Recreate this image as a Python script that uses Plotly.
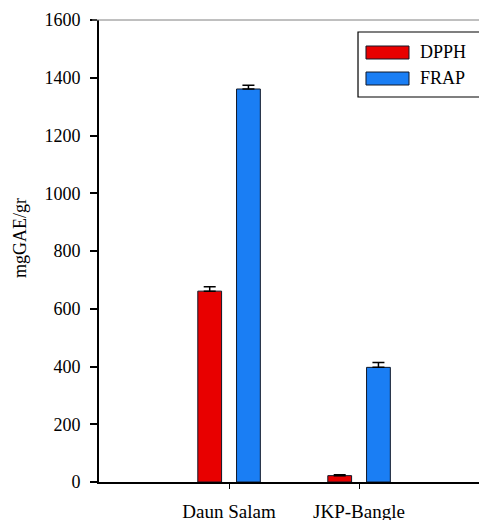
import plotly.graph_objects as go

categories = ["Daun Salam", "JKP-Bangle"]
dpph_values = [661, 22]
dpph_errors = [15, 3]
frap_values = [1361, 397]
frap_errors = [13, 17]
y_ticks = [0, 200, 400, 600, 800, 1000, 1200, 1400, 1600]
series_names = ["DPPH", "FRAP"]
series_colors = ["#E80000", "#1A7EF4"]

FONT = "Liberation Serif"

fig = go.Figure()
for name, vals, errs, color, off in [
    (series_names[0], dpph_values, dpph_errors, series_colors[0], -0.24),
    (series_names[1], frap_values, frap_errors, series_colors[1], 0.058),
]:
    fig.add_trace(go.Bar(
        x=categories, y=vals, name=name,
        width=0.183, offset=off,
        marker=dict(color=color, line=dict(color="#101828", width=1)),
        error_y=dict(type="data", symmetric=False, array=errs,
                     arrayminus=[0] * len(errs), color="black",
                     thickness=1.5, width=6),
        showlegend=False,
    ))

# manual legend
L = dict(xref="paper", yref="paper")
fig.add_shape(type="rect", x0=0.6816, x1=1.05, y0=0.8333, y1=0.974,
              line=dict(color="black", width=1.2), fillcolor="white", **L)
fig.add_shape(type="rect", x0=0.7026, x1=0.8158, y0=0.9156, y1=0.9437,
              line=dict(color="#101828", width=1), fillcolor=series_colors[0], **L)
fig.add_shape(type="rect", x0=0.7026, x1=0.8158, y0=0.8593, y1=0.8874,
              line=dict(color="#101828", width=1), fillcolor=series_colors[1], **L)
fig.add_annotation(x=0.8395, y=0.9297, text=series_names[0], showarrow=False,
                   xanchor="left", yanchor="middle",
                   font=dict(family=FONT, size=18, color="black"), **L)
fig.add_annotation(x=0.8395, y=0.8734, text=series_names[1], showarrow=False,
                   xanchor="left", yanchor="middle",
                   font=dict(family=FONT, size=18, color="black"), **L)

# top frame line
fig.add_shape(type="line", x0=-0.018, x1=1.0, y0=1, y1=1,
              line=dict(color="#808080", width=1), **L)

# y-axis title
fig.add_annotation(x=-0.208, y=0.528, text="mgGAE/gr", showarrow=False,
                   textangle=-90, xanchor="center", yanchor="middle",
                   font=dict(family=FONT, size=18, color="black"), **L)

fig.update_layout(
    width=479, height=520,
    margin=dict(l=99, r=0, t=20, b=38, autoexpand=False),
    plot_bgcolor="white", paper_bgcolor="white",
    font=dict(family=FONT, size=18, color="black"),
    barmode="group",
)
fig.update_xaxes(
    type="category", range=[-1, 1.923], automargin=False,
    showline=True, linecolor="black", linewidth=2,
    ticks="outside", ticklen=5, tickwidth=1, tickcolor="black",
    showgrid=False, zeroline=False,
    tickfont=dict(family=FONT, size=19),
    ticklabelstandoff=6,
)
fig.update_yaxes(
    range=[0, 1600], tickvals=y_ticks, automargin=False,
    showline=True, linecolor="black", linewidth=2,
    ticks="outside", ticklen=7, tickwidth=1.5, tickcolor="black",
    showgrid=False, zeroline=False,
    tickfont=dict(family=FONT, size=18),
    ticklabelstandoff=6,
)

fig.write_html(
    "out.html",
    config={"displayModeBar": False},
    post_script=(
        "document.documentElement.style.margin='0';"
        "document.documentElement.style.overflow='hidden';"
        "document.body.style.margin='0';"
        "document.body.style.overflow='hidden';"
    ),
)
